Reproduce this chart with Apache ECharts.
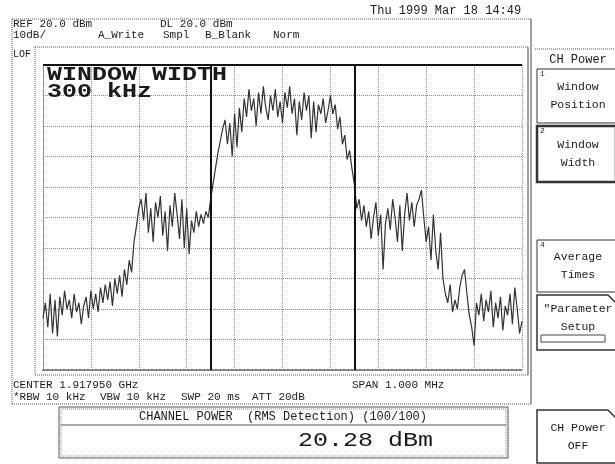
<!DOCTYPE html>
<html><head><meta charset="utf-8">
<script src="https://cdn.jsdelivr.net/npm/echarts@6/dist/echarts.min.js"></script>
<style>html,body{margin:0;padding:0;background:#fff}#c{width:615px;height:464px}</style>
</head><body><div id="c"></div>
<script>
// Sweep points: frequency offset from centre (kHz), level (dBm)
const traceFreqKHz = [
-500,-495,-490,-485,-480,-475,-470,-465,-460,-455,-450,-445,-440,-435,-430,-425,-420,
-415,-410,-405,-400,-395,-390,-385,-380,-375,-370,-365,-360,-355,-350,-345,-340,-335,
-330,-325,-320,-315,-310,-305,-300,
-295,-290,-285,-280,-275,-270,-265,-260,-255,-250,-245,-240,-235,-230,-225,-220,-215,-210,-205,-200,-195,-190,-185,-180,-175,-170,-165,-160,-155,
-150,-145,-140,-135,-130,-125,-120,-115,
-110,-105,-100,-95,-90,-85,-80,-75,-70,-65,-60,-55,-50,-45,-40,-35,-30,-25,-20,-15,-10,-5,0,5,10,15,20,25,30,35,40,45,50,55,60,65,70,75,80,85,90,95,100,
105,110,115,120,125,130,135,140,145,150,
155,160,165,170,175,180,185,190,195,200,205,210,215,220,225,230,235,240,245,250,255,260,265,270,275,280,285,290,295,300,
305,310,315,320,325,330,335,340,345,350,355,360,365,370,375,380,385,390,395,400,405,
410,415,420,425,430,435,440,445,450,455,460,465,470,475,480,485,490,495,500];
const traceLevelDbm = [
-63,-58,-66,-55,-68,-57,-69,-56,-62,-54,-60,-57,-63,-55,-61,-58,-65,
-59,-56,-63,-54,-60,-55,-61,-53,-58,-52,-57,-51,-59,-50,-55,-49,-56,
-47,-52,-44,-48,-38,-33,-27,
-24,-31,-22,-35,-27,-38,-25,-30,-23,-36,-28,-41,-26,-33,-22,-29,-37,-24,-40,-27,-42,-31,-35,-28,-33,-29,-32,-28,-30,
-24,-19,-14,-9,-5,-1,2,-6,
1,-10,4,-7,6,-2,9,3,12,5,9,0,11,4,13,6,2,10,5,12,3,8,1,11,6,13,4,9,-3,8,2,11,5,10,-4,8,-2,7,4,9,1,5,10,
4,7,-1,3,-6,-3,-11,-8,-14,-19,
-27,-24,-31,-26,-33,-28,-37,-30,-25,-36,-29,-47,-32,-27,-34,-24,-30,-38,-26,-41,-29,-22,-31,-25,-33,-26,-24,-21,-30,-38,
-33,-44,-29,-41,-47,-35,-50,-55,-58,-52,-61,-57,-60,-53,-49,-47,-55,-62,-66,-72,-58,
-62,-55,-64,-57,-61,-54,-66,-58,-63,-56,-67,-59,-62,-55,-65,-53,-60,-68,-64];
const windowEdgesKHz = [-150, 150];
const spanKHz = [-500, 500];
const levelRangeDbm = [-80, 20];

const headerTexts = ['REF 20.0 dBm', 'DL 20.0 dBm', '10dB/', 'A_Write', 'Smpl', 'B_Blank', 'Norm', 'LOF'];
const dateText = 'Thu 1999 Mar 18 14:49';
const windowTitle = ['WINDOW WIDTH', '300 kHz'];
const footerTexts = ['CENTER 1.917950 GHz', 'SPAN 1.000 MHz', '*RBW 10 kHz', 'VBW 10 kHz', 'SWP 20 ms', 'ATT 20dB'];
const channelHeader = 'CHANNEL POWER  (RMS Detection) (100/100)';
const channelValue = '20.28 dBm';
const menuTitle = 'CH Power';
const softKeys = [['1', 'Window', 'Position'], ['2', 'Window', 'Width'], ['4', 'Average', 'Times'], ['', '"Parameter', 'Setup'], ['', 'CH Power', 'OFF']];

const trace = traceFreqKHz.map((f, i) => [f, traceLevelDbm[i]]);

const G = {left: 43, top: 65, right: 522, bottom: 370};
const MONO = '"Liberation Mono", "DejaVu Sans Mono", monospace';
const INK = '#1a1a1a';
function txt(t, x, y, size, opt) {
  opt = opt || {};
  return {type: 'text', x: x, y: y, z: 20, silent: true, scaleY: opt.sy || 1,
    style: {text: t, font: (opt.bold ? 'bold ' : '') + size + 'px ' + MONO, fill: opt.fill || INK,
      align: opt.align || 'left', verticalAlign: 'middle'}};
}
function rect(x, y, w, h, opt) {
  opt = opt || {};
  return {type: 'rect', z: 15, silent: true, shape: {x: x, y: y, width: w, height: h},
    style: {fill: opt.fill || 'none', stroke: opt.stroke || '#333', lineWidth: opt.lw || 1, lineDash: opt.dash || null}};
}
function line(x1, y1, x2, y2, opt) {
  opt = opt || {};
  return {type: 'line', z: 15, silent: true, shape: {x1: x1, y1: y1, x2: x2, y2: y2},
    style: {stroke: opt.stroke || '#333', lineWidth: opt.lw || 1, lineDash: opt.dash || null}};
}
function poly(pts, opt) {
  opt = opt || {};
  return {type: 'polygon', z: 15, silent: true, shape: {points: pts},
    style: {fill: 'none', stroke: opt.stroke || '#333', lineWidth: opt.lw || 1}};
}

const graphics = [];
// outer frame
graphics.push(line(12, 19, 531, 19, {stroke: '#555', dash: [1, 1]}));
graphics.push(line(12, 19, 12, 404, {stroke: '#555', dash: [1, 1]}));
graphics.push(line(12, 404, 531, 404, {stroke: '#555', dash: [1, 1]}));
graphics.push(line(531, 19, 531, 404, {stroke: '#444'}));
graphics.push(line(528, 47, 528, 375, {stroke: '#444'}));
// graticule frame
graphics.push(line(35, 47, 528, 47, {stroke: '#555', dash: [1, 1]}));
graphics.push(line(35, 47, 35, 375, {stroke: '#555', dash: [1, 1]}));
graphics.push(line(35, 375, 528, 375, {stroke: '#555', dash: [1, 1]}));
// plot top border (solid)
graphics.push(line(G.left, G.top, G.right, G.top, {stroke: '#111', lw: 2}));
// header
graphics.push(txt(dateText, 370, 11, 12));
graphics.push(txt(headerTexts[0], 13, 24, 11));
graphics.push(txt(headerTexts[1], 160, 24, 11));
graphics.push(txt(headerTexts[2], 13, 35, 11));
graphics.push(txt(headerTexts[3], 98, 35, 11));
graphics.push(txt(headerTexts[4], 163, 35, 11));
graphics.push(txt(headerTexts[5], 205, 35, 11));
graphics.push(txt(headerTexts[6], 273, 35, 11));
graphics.push(txt(headerTexts[7], 13, 54, 10));
// window title
graphics.push(txt(windowTitle[0], 47, 75, 25, {sy: 0.8, bold: true}));
graphics.push(txt(windowTitle[1], 47, 92, 25, {sy: 0.8, bold: true}));
// footer
graphics.push(txt(footerTexts[0], 13, 385, 11));
graphics.push(txt(footerTexts[1], 352, 385, 11));
graphics.push(txt(footerTexts[2], 13, 397, 11));
graphics.push(txt(footerTexts[3], 100, 397, 11));
graphics.push(txt(footerTexts[4], 181, 397, 11));
graphics.push(txt(footerTexts[5], 252, 397, 11));
// channel power box
graphics.push(rect(59, 407, 449, 51, {stroke: '#555'}));
graphics.push(rect(61, 409, 445, 47, {stroke: '#888', dash: [1, 1]}));
graphics.push(line(61, 425, 506, 425, {stroke: '#555'}));
graphics.push(txt(channelHeader, 283, 417, 12, {align: 'center'}));
graphics.push(txt(channelValue, 433, 441, 25, {align: 'right', sy: 0.8}));
// right menu
graphics.push(line(535, 49, 615, 49, {stroke: '#555', dash: [1, 1]}));
graphics.push(txt(menuTitle, 578, 60, 12, {align: 'center'}));
const keyBoxes = [[69, 123, 1], [126, 182, 2.5], [240, 292, 1], [295, 350, 1], [410, 463, 1]];
keyBoxes.forEach((b, i) => {
  const x0 = 537, x1 = 616, y0 = b[0], y1 = b[1];
  if (i >= 3) {
    graphics.push(poly([[x0, y0], [x1 - 8, y0], [x1, y0 + 8], [x1, y1], [x0, y1]], {lw: 1.5}));
  } else {
    graphics.push(rect(x0, y0, x1 - x0, y1 - y0, {lw: b[2]}));
  }
  const k = softKeys[i];
  if (k[0]) graphics.push(txt(k[0], x0 + 3, y0 + 5, 8));
  const mid = (y0 + y1) / 2;
  const top = i === 3 ? y0 + 14 : mid - 9;
  graphics.push(txt(k[1], 578, top, 11.5, {align: 'center'}));
  graphics.push(txt(k[2], 578, top + 18, 11.5, {align: 'center'}));
});
graphics.push(rect(541, 335, 64, 7, {stroke: '#444'}));

const chart = echarts.init(document.getElementById('c'), null, {renderer: 'canvas'});
chart.setOption({
  animation: false,
  backgroundColor: '#fff',
  grid: {left: G.left, top: G.top, width: G.right - G.left, height: G.bottom - G.top, show: false},
  xAxis: {type: 'value', min: spanKHz[0], max: spanKHz[1], interval: 100,
    axisLabel: {show: false}, axisTick: {show: false},
    axisLine: {show: true, onZero: false, lineStyle: {color: '#777', type: 'dotted', width: 2}},
    splitLine: {show: true, lineStyle: {color: '#8a8a8a', type: 'dotted', width: 1}}},
  yAxis: {type: 'value', min: levelRangeDbm[0], max: levelRangeDbm[1], interval: 10,
    axisLabel: {show: false}, axisTick: {show: false},
    axisLine: {show: true, onZero: false, lineStyle: {color: '#777', type: 'dotted', width: 1}},
    splitLine: {show: true, lineStyle: {color: '#8a8a8a', type: 'dotted', width: 1}}},
  series: [{
    type: 'line', data: trace, showSymbol: false, symbol: 'none',
    lineStyle: {color: '#333', width: 1.2},
    markLine: {silent: true, symbol: 'none', label: {show: false},
      lineStyle: {color: '#111', type: 'solid', width: 2},
      data: windowEdgesKHz.map(v => ({xAxis: v}))}
  }],
  graphic: graphics
});
</script></body></html>
